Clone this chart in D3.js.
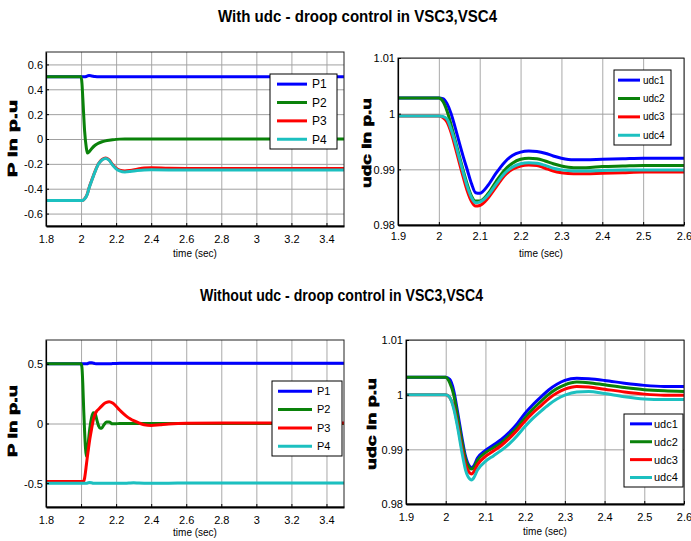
<!DOCTYPE html>
<html>
<head>
<meta charset="utf-8">
<script src="https://cdn.jsdelivr.net/npm/d3@7"></script>
<style>
  html, body { margin: 0; padding: 0; background: #fff; }
  svg { display: block; }
  text { font-family: "Liberation Sans", Arial, sans-serif; fill: #000; }
</style>
</head>
<body>
<svg id="fig" width="691" height="541"></svg>
<script>
// ---------- data: active power, with udc-droop control ----------
const tPowWith = [1.8, 2.0, 2.005, 2.01, 2.02, 2.03, 2.036, 2.045, 2.06, 2.08,
                  2.1, 2.12, 2.14, 2.16, 2.18, 2.2, 2.22, 2.25, 2.28, 2.32,
                  2.36, 2.4, 2.5, 2.6, 3.0, 3.5];
const p1With = [0.5, 0.5, 0.5, 0.5, 0.5, 0.503, 0.507, 0.51, 0.507, 0.502,
                0.5, 0.5, 0.5, 0.5, 0.5, 0.5, 0.5, 0.5, 0.5, 0.5,
                0.5, 0.5, 0.5, 0.5, 0.5, 0.5];
const p2With = [0.5, 0.5, 0.45, 0.33, 0.07, -0.07, -0.113, -0.105, -0.078, -0.05,
                -0.033, -0.022, -0.015, -0.01, -0.006, -0.003, -0.001, 0, 0, 0,
                0, 0, 0, 0, 0, 0];
const p3With = [-0.495, -0.495, -0.495, -0.494, -0.48, -0.46, -0.44, -0.395, -0.335, -0.26,
                -0.197, -0.165, -0.153, -0.168, -0.205, -0.235, -0.25, -0.257, -0.253, -0.243,
                -0.234, -0.232, -0.236, -0.237, -0.237, -0.237];
const p4With = [-0.495, -0.495, -0.495, -0.494, -0.482, -0.463, -0.443, -0.398, -0.338, -0.263,
                -0.2, -0.168, -0.156, -0.171, -0.21, -0.24, -0.256, -0.265, -0.262, -0.254,
                -0.249, -0.248, -0.249, -0.249, -0.249, -0.249];

// ---------- data: dc voltage, with udc-droop control ----------
const tUdcWith = [1.9, 2.0, 2.01, 2.02, 2.03, 2.04, 2.05, 2.06, 2.07, 2.08,
                  2.09, 2.1, 2.12, 2.14, 2.16, 2.18, 2.2, 2.22, 2.24, 2.26,
                  2.28, 2.3, 2.33, 2.36, 2.4, 2.45, 2.5, 2.55, 2.6];
const udc1With = [1.0028, 1.0028, 1.0027, 1.0018, 1.0, 0.9975, 0.9948, 0.9922, 0.9898, 0.9874,
                  0.9858, 0.9857, 0.9871, 0.9893, 0.9912, 0.9925, 0.9931, 0.9933, 0.9932, 0.9929,
                  0.9924, 0.992, 0.9917, 0.9917, 0.9918, 0.9919, 0.992, 0.992, 0.992];
const udc2With = [1.0028, 1.0028, 1.0022, 1.0005, 0.998, 0.9952, 0.9924, 0.9897, 0.9872, 0.9852,
                  0.9843, 0.9843, 0.9856, 0.9878, 0.9898, 0.9911, 0.9918, 0.992, 0.9919, 0.9915,
                  0.991, 0.9906, 0.9903, 0.9903, 0.9905, 0.9906, 0.9907, 0.9907, 0.9907];
const udc3With = [0.9996, 0.9996, 0.9993, 0.9985, 0.9966, 0.994, 0.9912, 0.9885, 0.986, 0.9842,
                  0.9834, 0.9835, 0.9848, 0.9868, 0.9888, 0.99, 0.9906, 0.9908, 0.9907, 0.9902,
                  0.9897, 0.9894, 0.9892, 0.9892, 0.9893, 0.9894, 0.9895, 0.9895, 0.9895];
const udc4With = [0.9996, 0.9996, 0.9995, 0.999, 0.9972, 0.9948, 0.992, 0.9893, 0.9868, 0.9849,
                  0.984, 0.9841, 0.9853, 0.9873, 0.9892, 0.9904, 0.991, 0.9912, 0.9911, 0.9907,
                  0.9902, 0.9899, 0.9897, 0.9897, 0.9898, 0.9899, 0.9899, 0.9899, 0.9899];

// ---------- data: active power, without udc-droop control ----------
const tPowWithout = [1.8, 2.0, 2.005, 2.01, 2.015, 2.02, 2.025, 2.03, 2.035, 2.04,
                     2.05, 2.06, 2.07, 2.08, 2.09, 2.1, 2.11, 2.12, 2.13, 2.145,
                     2.16, 2.18, 2.2, 2.22, 2.24, 2.26, 2.28, 2.3, 2.33, 2.36,
                     2.4, 2.45, 2.5, 2.6, 3.0, 3.5];
const p1Without = [0.5, 0.5, 0.5, 0.5, 0.5, 0.5, 0.5, 0.5, 0.5, 0.505,
                   0.51, 0.51, 0.506, 0.502, 0.5, 0.5, 0.5, 0.5, 0.5, 0.5,
                   0.5, 0.502, 0.504, 0.505, 0.505, 0.505, 0.505, 0.505, 0.505, 0.505,
                   0.505, 0.505, 0.505, 0.505, 0.505, 0.505];
const p2Without = [0.5, 0.5, 0.47, 0.33, 0.12, -0.06, -0.2, -0.275, -0.26, -0.18,
                   -0.04, 0.05, 0.09, 0.085, 0.03, -0.02, -0.04, -0.035, -0.012, 0.012,
                   0.012, -0.003, -0.002, 0, 0, 0, 0, 0, 0, 0,
                   0, 0, 0, 0, 0, 0];
const p3Without = [-0.486, -0.486, -0.486, -0.486, -0.482, -0.46, -0.41, -0.35, -0.29, -0.235,
                   -0.13, -0.045, 0.03, 0.08, 0.105, 0.12, 0.135, 0.15, 0.165, 0.178,
                   0.183, 0.172, 0.145, 0.113, 0.085, 0.06, 0.04, 0.024, 0.005, -0.01,
                   -0.016, -0.01, -0.004, 0.002, 0.004, 0.005];
const p4Without = [-0.5, -0.5, -0.5, -0.5, -0.5, -0.5, -0.5, -0.5, -0.5, -0.497,
                   -0.495, -0.497, -0.5, -0.5, -0.5, -0.5, -0.5, -0.5, -0.5, -0.5,
                   -0.5, -0.5, -0.5, -0.5, -0.5, -0.5, -0.498, -0.497, -0.499, -0.5,
                   -0.5, -0.5, -0.5, -0.499, -0.499, -0.499];

// ---------- data: dc voltage, without udc-droop control ----------
const tUdcWithout = [1.9, 2.0, 2.01, 2.02, 2.03, 2.04, 2.05, 2.06, 2.065, 2.07,
                     2.08, 2.1, 2.12, 2.14, 2.16, 2.18, 2.2, 2.22, 2.24, 2.26,
                     2.28, 2.3, 2.33, 2.36, 2.4, 2.45, 2.5, 2.55, 2.6];
const udc1Without = [1.0032, 1.0032, 1.0028, 1.0008, 0.9968, 0.9925, 0.9887, 0.9869, 0.98665, 0.9869,
                     0.9884, 0.9898, 0.9908, 0.9918, 0.9931, 0.9947, 0.9966, 0.9982, 0.9996, 1.0009,
                     1.0019, 1.0026, 1.003, 1.0029, 1.0026, 1.0021, 1.0017, 1.0015, 1.0015];
const udc2Without = [1.0032, 1.0032, 1.0022, 1.0, 0.996, 0.9918, 0.9882, 0.9866, 0.9864, 0.9866,
                     0.988, 0.9894, 0.9903, 0.9912, 0.9925, 0.994, 0.9958, 0.9974, 0.9988, 1.0001,
                     1.0011, 1.0018, 1.0023, 1.0022, 1.0018, 1.0013, 1.0009, 1.0007, 1.0006];
const udc3Without = [1.0, 1.0, 0.9995, 0.9978, 0.9945, 0.9905, 0.9872, 0.9857, 0.9855, 0.9858,
                     0.9872, 0.9887, 0.9897, 0.9907, 0.992, 0.9935, 0.9952, 0.9967, 0.998, 0.9993,
                     1.0003, 1.001, 1.0015, 1.0014, 1.001, 1.0005, 1.0001, 0.9999, 0.9999];
const udc4Without = [1.0, 1.0, 0.9995, 0.9975, 0.994, 0.9898, 0.9862, 0.9846, 0.9844, 0.9847,
                     0.9862, 0.9878, 0.9888, 0.9898, 0.991, 0.9925, 0.9942, 0.9957, 0.997, 0.9982,
                     0.9992, 0.9999, 1.0005, 1.0006, 1.0002, 0.9996, 0.9992, 0.9991, 0.9991];

// ---------- ticks and labels ----------
const powXTicks = [1.8, 2.0, 2.2, 2.4, 2.6, 2.8, 3.0, 3.2, 3.4];
const udcXTicks = [1.9, 2.0, 2.1, 2.2, 2.3, 2.4, 2.5, 2.6];
const powYTicksWith = [-0.6, -0.4, -0.2, 0, 0.2, 0.4, 0.6];
const powYTicksWithout = [-0.5, 0, 0.5];
const udcYTicks = [0.98, 0.99, 1.0, 1.01];
const powNames = ["P1", "P2", "P3", "P4"];
const udcNames = ["udc1", "udc2", "udc3", "udc4"];
const lineColors = ["#0000ff", "#0a820a", "#ff0000", "#1cc0c0"];
const titleWith = "With udc - droop control in VSC3,VSC4";
const titleWithout = "Without udc - droop control in VSC3,VSC4";
const xLabel = "time (sec)";
const powYLabel = "P in p.u";
const udcYLabel = "udc in p.u";

// ---------- drawing ----------
const svg = d3.select("#fig");
const fmt = d => String(+d.toFixed(2));

function panel(cfg) {
  const g = svg.append("g");
  const x = d3.scaleLinear().domain(cfg.xDomain).range([cfg.box.x0, cfg.box.x1]);
  const y = d3.scaleLinear().domain(cfg.yDomain).range([cfg.box.y1, cfg.box.y0]);
  const w = cfg.box.x1 - cfg.box.x0, h = cfg.box.y1 - cfg.box.y0;

  // grid
  g.append("g")
    .attr("transform", `translate(0,${cfg.box.y1})`)
    .call(d3.axisBottom(x).tickValues(cfg.xTicks).tickSize(-h).tickFormat(""))
    .call(a => a.select(".domain").remove())
    .call(a => a.selectAll("line").attr("stroke", "#a9a9a9").attr("stroke-width", 1));
  g.append("g")
    .attr("transform", `translate(${cfg.box.x0},0)`)
    .call(d3.axisLeft(y).tickValues(cfg.yTicks).tickSize(-w).tickFormat(""))
    .call(a => a.select(".domain").remove())
    .call(a => a.selectAll("line").attr("stroke", "#a0a0a0").attr("stroke-width", 1));

  // curves
  const clipId = "clip" + cfg.id;
  g.append("clipPath").attr("id", clipId).append("rect")
    .attr("x", cfg.box.x0).attr("y", cfg.box.y0).attr("width", w).attr("height", h);
  const line = d3.line().x(d => x(d[0])).y(d => y(d[1])).curve(d3.curveMonotoneX);
  const lg = g.append("g").attr("clip-path", `url(#${clipId})`);
  cfg.series.forEach((s, i) => {
    lg.append("path")
      .datum(cfg.t.map((t, k) => [t, s[k]]))
      .attr("d", line)
      .attr("fill", "none")
      .attr("stroke", lineColors[i])
      .attr("stroke-width", 3)
      .attr("stroke-linejoin", "round");
  });

  // frame
  g.append("rect").attr("x", cfg.box.x0).attr("y", cfg.box.y0)
    .attr("width", w).attr("height", h)
    .attr("fill", "none").attr("stroke", "#222").attr("stroke-width", 1);

  // axes with inward ticks
  const xa = g.append("g")
    .attr("transform", `translate(0,${cfg.box.y1})`)
    .call(d3.axisBottom(x).tickValues(cfg.xTicks).tickSizeInner(-3).tickSizeOuter(0).tickPadding(6).tickFormat(fmt));
  xa.select(".domain").attr("stroke", "#000").attr("stroke-width", 1.8);
  xa.selectAll("line").attr("stroke", "#000");
  xa.selectAll("text").attr("font-size", 11).attr("font-family", "Liberation Sans, Arial, sans-serif")
    .attr("y", cfg.xLabelOffset).attr("dy", 0);

  const ya = g.append("g")
    .attr("transform", `translate(${cfg.box.x0},0)`)
    .call(d3.axisLeft(y).tickValues(cfg.yTicks).tickSizeInner(-3).tickSizeOuter(0).tickPadding(3).tickFormat(fmt));
  ya.select(".domain").attr("stroke", "#000").attr("stroke-width", 1.2);
  ya.selectAll("line").attr("stroke", "#000");
  ya.selectAll("text").attr("font-size", 11).attr("font-family", "Liberation Sans, Arial, sans-serif")
    .attr("x", -3).attr("dy", "0.35em");

  // axis titles
  g.append("text")
    .attr("x", (cfg.box.x0 + cfg.box.x1) / 2).attr("y", cfg.xTitleY)
    .attr("text-anchor", "middle").attr("font-size", 10)
    .text(xLabel);
  g.append("text")
    .attr("transform", `translate(${cfg.yTitle.x},${cfg.yTitle.y}) rotate(-90)`)
    .attr("text-anchor", "middle").attr("font-size", 13).attr("font-weight", "bold")
    .attr("stroke", "#000").attr("stroke-width", 0.7)
    .attr("textLength", cfg.yTitle.len).attr("lengthAdjust", "spacingAndGlyphs")
    .text(cfg.yTitle.text);

  // legend
  const L = cfg.legend;
  const lgd = g.append("g");
  lgd.append("rect").attr("x", L.x0).attr("y", L.y0)
    .attr("width", L.x1 - L.x0).attr("height", L.y1 - L.y0)
    .attr("fill", "#fff").attr("stroke", "#000").attr("stroke-width", 1);
  const lh = L.y1 - L.y0;
  cfg.names.forEach((name, i) => {
    const ry = L.y0 + lh * (0.135 + i * 0.245);
    lgd.append("line").attr("x1", L.lx0).attr("x2", L.lx1).attr("y1", ry).attr("y2", ry)
      .attr("stroke", lineColors[i]).attr("stroke-width", 3);
    lgd.append("text").attr("x", L.tx).attr("y", ry).attr("dy", "0.36em")
      .attr("font-size", L.fs).text(name);
  });
}

// titles
svg.append("text").attr("x", 357.5).attr("y", 21.5).attr("text-anchor", "middle")
  .attr("font-size", 16).attr("font-weight", "bold")
  .attr("textLength", 279).attr("lengthAdjust", "spacingAndGlyphs").text(titleWith);
svg.append("text").attr("x", 341.5).attr("y", 301).attr("text-anchor", "middle")
  .attr("font-size", 16).attr("font-weight", "bold")
  .attr("textLength", 283).attr("lengthAdjust", "spacingAndGlyphs").text(titleWithout);

panel({
  id: 1, box: {x0: 46, x1: 344, y0: 52, y1: 226},
  xDomain: [1.8, 3.5], yDomain: [-0.7, 0.7],
  xTicks: powXTicks, yTicks: powYTicksWith,
  t: tPowWith, series: [p1With, p2With, p3With, p4With], names: powNames,
  xLabelOffset: 17, xTitleY: 257,
  yTitle: {x: 16.5, y: 138.5, len: 77, text: powYLabel},
  legend: {x0: 270, x1: 337, y0: 74, y1: 149, lx0: 277, lx1: 307, tx: 312, fs: 12}
});
panel({
  id: 2, box: {x0: 398, x1: 684, y0: 58, y1: 225},
  xDomain: [1.9, 2.6], yDomain: [0.98, 1.01],
  xTicks: udcXTicks, yTicks: udcYTicks,
  t: tUdcWith, series: [udc1With, udc2With, udc3With, udc4With], names: udcNames,
  xLabelOffset: 15, xTitleY: 257,
  yTitle: {x: 371, y: 143, len: 90, text: udcYLabel},
  legend: {x0: 614, x1: 671, y0: 70, y1: 145, lx0: 618, lx1: 640, tx: 643, fs: 10}
});
panel({
  id: 3, box: {x0: 46, x1: 344, y0: 340, y1: 507},
  xDomain: [1.8, 3.5], yDomain: [-0.7, 0.7],
  xTicks: powXTicks, yTicks: powYTicksWithout,
  t: tPowWithout, series: [p1Without, p2Without, p3Without, p4Without], names: powNames,
  xLabelOffset: 17, xTitleY: 536,
  yTitle: {x: 16.5, y: 421, len: 72, text: powYLabel},
  legend: {x0: 272, x1: 342, y0: 381, y1: 456, lx0: 278, lx1: 312, tx: 317, fs: 11}
});
panel({
  id: 4, box: {x0: 406, x1: 684, y0: 340, y1: 504},
  xDomain: [1.9, 2.6], yDomain: [0.98, 1.01],
  xTicks: udcXTicks, yTicks: udcYTicks,
  t: tUdcWithout, series: [udc1Without, udc2Without, udc3Without, udc4Without], names: udcNames,
  xLabelOffset: 17, xTitleY: 535,
  yTitle: {x: 376, y: 424, len: 92, text: udcYLabel},
  legend: {x0: 624, x1: 683, y0: 414, y1: 487, lx0: 630, lx1: 652, tx: 654, fs: 11}
});
</script>
</body>
</html>
